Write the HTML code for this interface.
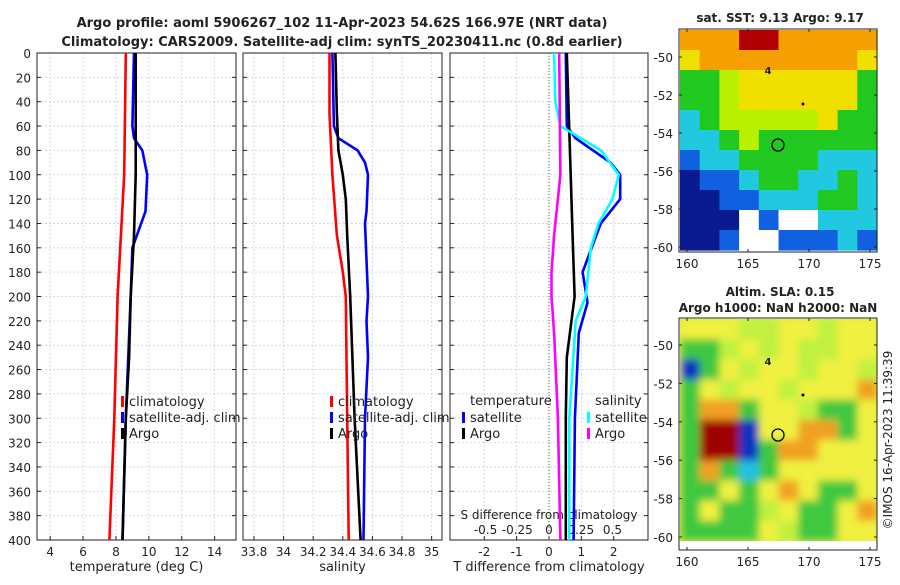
<!DOCTYPE html>
<html><head><meta charset="utf-8">
<style>
body{margin:0;background:#fff;}
svg text{font-family:"DejaVu Sans","Liberation Sans",sans-serif;fill:#222;}
</style></head>
<body>
<svg id="s" width="900" height="580" xmlns="http://www.w3.org/2000/svg">
<defs>
<filter id="bl"><feGaussianBlur stdDeviation="4"/></filter>
<clipPath id="c2"><rect x="680" y="319" width="197" height="222"/></clipPath>
</defs>
<text x="342" y="27" font-size="13" font-weight="bold" text-anchor="middle">Argo profile: aoml 5906267_102 11-Apr-2023 54.62S 166.97E (NRT data)</text>
<text x="342" y="46" font-size="13" font-weight="bold" text-anchor="middle">Climatology: CARS2009. Satellite-adj clim: synTS_20230411.nc (0.8d earlier)</text>
<text x="780" y="22" font-size="12" font-weight="bold" text-anchor="middle">sat. SST: 9.13 Argo: 9.17</text>
<text x="780" y="296" font-size="12" font-weight="bold" text-anchor="middle">Altim. SLA: 0.15</text>
<text x="778" y="312" font-size="12" font-weight="bold" text-anchor="middle">Argo h1000: NaN h2000: NaN</text>
<text transform="translate(892,440) rotate(-90)" font-size="12" text-anchor="middle">©IMOS 16-Apr-2023 11:39:39</text>
<g id="g"></g>
</svg>
<script>
// ---- data ----
const depthTicks=[0,20,40,60,80,100,120,140,160,180,200,220,240,260,280,300,320,340,360,380,400];
const tempTicks=[4,6,8,10,12,14];
const salTicks=[33.8,34,34.2,34.4,34.6,34.8,35];
const salTickLabels=["33.8","34","34.2","34.4","34.6","34.8","35"];
const tdiffTicks=[-2,-1,0,1,2];
const sdiffTicks=[-0.5,-0.25,0,0.25,0.5];
const sdiffLabels=["-0.5","-0.25","0","0.25","0.5"];

const tClimD=[0,100,200,300,400];
const tClimV=[8.6,8.5,8.1,7.9,7.6];
const tSatD=[0,60,70,80,100,130,160,200,300,400];
const tSatV=[9.1,9.0,9.1,9.6,9.9,9.8,9.0,8.9,8.6,8.4];
const tArgoD=[0,100,150,200,250,300,400];
const tArgoV=[9.2,9.2,9.1,8.9,8.8,8.6,8.4];

const sClimD=[0,50,100,150,180,200,300,400];
const sClimV=[34.31,34.31,34.33,34.36,34.40,34.42,34.43,34.44];
const sSatD=[0,60,70,80,90,100,130,140,200,220,250,300,400];
const sSatV=[34.33,34.34,34.37,34.5,34.55,34.57,34.56,34.55,34.57,34.56,34.57,34.55,34.54];
const sArgoD=[0,50,80,100,120,150,200,300,400];
const sArgoV=[34.35,34.36,34.37,34.40,34.42,34.43,34.45,34.48,34.52];

const dTSatD=[0,60,70,90,100,120,140,180,205,230,300,400];
const dTSatV=[0.52,0.55,0.82,1.9,2.2,2.2,1.6,1.04,1.19,0.92,0.8,0.76];
const dTArgoD=[0,100,150,200,250,300,400];
const dTArgoV=[0.55,0.67,0.73,0.79,0.55,0.52,0.52];
const dSSatD=[0,40,60,80,100,120,140,160,200,220,300,400];
const dSSatV=[0.04,0.05,0.09,0.41,0.55,0.50,0.39,0.33,0.29,0.21,0.16,0.16];
const dSArgoD=[0,100,150,180,200,230,300,400];
const dSArgoV=[0.08,0.09,0.04,0.02,0.02,0.04,0.07,0.09];

const sstGrid=["OOORROOOOO","YOOOOOOOOY","GGLYYYYYYG","GGLYYYYYYG","CGLLLLLYGG","CCGLGGGGGG","BCCGGGGCCC","NBBCGGCCGC","NNBBCCCGGC","NNNWBWWCCC","NNBWWBBBCB"];
const slaGrid=["YYYLLYYLYY","GGLYLYLLYY","BGYLYYLYYL","GYLYYLYYYO","GOOGYYLGGY","GRRBYYOOGY","GRRBGOOYYY","GOGCGYYYYY","GGYGYOYGGY","GYGGLYGGYO","GGGGYLGGYY"];
const latTicks=[-50,-52,-54,-56,-58,-60];
const lonTicks=[160,165,170,175];

// ---- drawing ----
const NS="http://www.w3.org/2000/svg";
const G=document.getElementById('g');
function mk(t,a,p){const e=document.createElementNS(NS,t);for(const k in a)e.setAttribute(k,a[k]);(p||G).appendChild(e);return e;}
const Y0=53,Y1=540;
const yD=d=>Y0+(d/400)*(Y1-Y0);
const p1={l:37,r:236,min:3.2,max:15.3};
const p2={l:243,r:442,min:33.726,max:35.07};
const p3={l:450,r:648,min:-3.06,max:3.06};
const p3s={l:450,r:648,min:-0.78,max:0.78};
const xs=(p,v)=>p.l+(v-p.min)/(p.max-p.min)*(p.r-p.l);

function panel(p,ticks,labels,name,xlabel){
  const box=mk('g',{});
  
  
  depthTicks.forEach(d=>{
    const l=mk('line',{x1:p.l,x2:p.r,y1:yD(d),y2:yD(d),stroke:'#c8d0ee','stroke-width':0.8,'stroke-dasharray':'2,2'},box);
    
    
  });
  ticks.forEach((t,i)=>{
    const x=xs(p,t);
    const l=mk('line',{x1:x,x2:x,y1:Y0,y2:Y1,stroke:'#c8d0ee','stroke-width':0.8,'stroke-dasharray':'2,2'},box);
    
    
    mk('line',{x1:x,x2:x,y1:Y1,y2:Y1-4,stroke:'#222'},box);
    const tx=mk('text',{x:x,y:Y1+16,'font-size':12,'text-anchor':'middle'},box);
    tx.textContent=labels[i];
    
    
  });
  const r=mk('rect',{x:p.l,y:Y0,width:p.r-p.l,height:Y1-Y0,fill:'none',stroke:'#222','stroke-width':1},box);
  
  
  const xl=mk('text',{x:(p.l+p.r)/2,y:571,'font-size':13,'text-anchor':'middle'},box);
  xl.textContent=xlabel;
  
  
}
panel(p1,tempTicks,tempTicks.map(String),'temperature-panel','temperature (deg C)');
panel(p2,salTicks,salTickLabels,'salinity-panel','salinity');
panel(p3,tdiffTicks,tdiffTicks.map(String),'difference-panel','T difference from climatology');
depthTicks.forEach(d=>{
  const t=mk('text',{x:31,y:yD(d)+5,'font-size':12,'text-anchor':'end'});
  t.textContent=String(d);
  
  
  [p1,p2,p3].forEach(p=>{mk('line',{x1:p.l,x2:p.l+4,y1:yD(d),y2:yD(d),stroke:'#222'});mk('line',{x1:p.r,x2:p.r-4,y1:yD(d),y2:yD(d),stroke:'#222'});});
});
const z=mk('line',{x1:xs(p3,0),x2:xs(p3,0),y1:Y0,y2:Y1,stroke:'#556b2f','stroke-width':1,'stroke-dasharray':'1,2'});


const sdt=mk('text',{x:549,y:519,'font-size':12,'text-anchor':'middle'});
sdt.textContent='S difference from climatology';


sdiffTicks.forEach((v,i)=>{
  const t=mk('text',{x:xs(p3s,v),y:534,'font-size':12,'text-anchor':'middle'});
  t.textContent=sdiffLabels[i];
  
  
});

function line(p,D,V,col,name){
  const pts=D.map((d,i)=>xs(p,V[i]).toFixed(1)+','+yD(d).toFixed(1)).join(' ');
  const e=mk('polyline',{points:pts,fill:'none',stroke:col,'stroke-width':2.6,'stroke-linejoin':'round'});
  
  
}
line(p1,tClimD,tClimV,'#ff0000','temp-climatology-line');
line(p1,tSatD,tSatV,'#0000ff','temp-satellite-line');
line(p1,tArgoD,tArgoV,'#000','temp-argo-line');
line(p2,sClimD,sClimV,'#ff0000','sal-climatology-line');
line(p2,sSatD,sSatV,'#0000ff','sal-satellite-line');
line(p2,sArgoD,sArgoV,'#000','sal-argo-line');
line(p3,dTSatD,dTSatV,'#0000ff','tdiff-satellite-line');
line(p3,dTArgoD,dTArgoV,'#000','tdiff-argo-line');
line(p3s,dSSatD,dSSatV,'#00ffff','sdiff-satellite-line');
line(p3s,dSArgoD,dSArgoV,'#ff00ff','sdiff-argo-line');

function leg(x,y,col,label,name){
  const g=mk('g',{});
  
  
  mk('rect',{x:x,y:y-10,width:3,height:11,fill:col},g);
  const t=mk('text',{x:x+8,y:y,'font-size':13},g);t.textContent=label;
}
leg(121,406,'#ff0000','climatology','legend-climatology');
leg(121,422,'#0000ff','satellite-adj. clim','legend-satellite');
leg(121,438,'#000','Argo','legend-argo');
leg(330,406,'#ff0000','climatology','legend-sal-climatology');
leg(330,422,'#0000ff','satellite-adj. clim','legend-sal-satellite');
leg(330,438,'#000','Argo','legend-sal-argo');
let th=mk('text',{x:470,y:405,'font-size':13});th.textContent='temperature';

leg(462,422,'#0000ff','satellite','legend-tdiff-satellite');
leg(462,438,'#000','Argo','legend-tdiff-argo');
let sh=mk('text',{x:595,y:405,'font-size':13});sh.textContent='salinity';

leg(587,422,'#00ffff','satellite','legend-sdiff-satellite');
leg(587,438,'#ff00ff','Argo','legend-sdiff-argo');

// ---- maps ----
const pal={R:'#b00000',O:'#f5a000',Y:'#f0e000',L:'#b8f000',G:'#20c820',C:'#20c8e0',B:'#1060e0',N:'#0a1a90',W:'#ffffff'};
const pal2={R:'#a00000',O:'#f0a020',Y:'#f0f040',L:'#c0f040',G:'#40c840',C:'#20c0e0',B:'#1030c0',N:'#000080',W:'#fff'};
function map(grid,P,top,bot,name,blur){
  const g=mk('g',blur?{'clip-path':'url(#c2)'}:{});
  
  
  const inner=mk('g',blur?{filter:'url(#bl)'}:{},g);
  const L=680,R=877,cw=(R-L)/10,ch=(bot-top)/grid.length;
  if(blur)mk('rect',{x:L-10,y:top-10,width:R-L+20,height:bot-top+20,fill:'#d8f040'},inner);
  grid.forEach((row,r)=>[...row].forEach((c,k)=>{
    mk('rect',{x:L+k*cw,y:top+r*ch,width:cw+0.6,height:ch+0.6,fill:P[c]},inner);
  }));
}
map(sstGrid,pal,30,250,'sst-map',false);
map(slaGrid,pal2,319,541,'sla-map',true);
function mapAxes(top,bot,lat50,lat60,name){
  const fr=mk('rect',{x:679,y:top,width:198,height:bot-top,fill:'none',stroke:'#222'});
  
  
  latTicks.forEach(v=>{
    const y=lat50+(v+50)/(-10)*(lat60-lat50);
    mk('line',{x1:679,x2:682,y1:y,y2:y,stroke:'#222'});mk('line',{x1:877,x2:874,y1:y,y2:y,stroke:'#222'});
    const t=mk('text',{x:673,y:y+5,'font-size':12,'text-anchor':'end'});t.textContent=String(v);
    
  });
  lonTicks.forEach(v=>{
    const x=687+(v-160)*12.2;
    mk('line',{x1:x,x2:x,y1:bot,y2:bot-3,stroke:'#222'});mk('line',{x1:x,x2:x,y1:top,y2:top+3,stroke:'#222'});
    const t=mk('text',{x:x,y:bot+16,'font-size':12,'text-anchor':'middle'});t.textContent=String(v);
    
  });
}
mapAxes(29,252,57,247,'sst-map-frame');
mapAxes(318,550,345,537,'sla-map-frame');
[[778,145],[778,435]].forEach(([x,y])=>{
  const c=mk('circle',{cx:x,cy:y,r:6,fill:'none',stroke:'#000','stroke-width':1.3});
  
  const a=mk('text',{x:768,y:y>300?365:74,'font-size':10,'font-weight':'bold','text-anchor':'middle'});a.textContent='4';
  mk('circle',{cx:803,cy:y>300?395:104,r:1.5,fill:'#000'});
});
</script>
</body></html>
